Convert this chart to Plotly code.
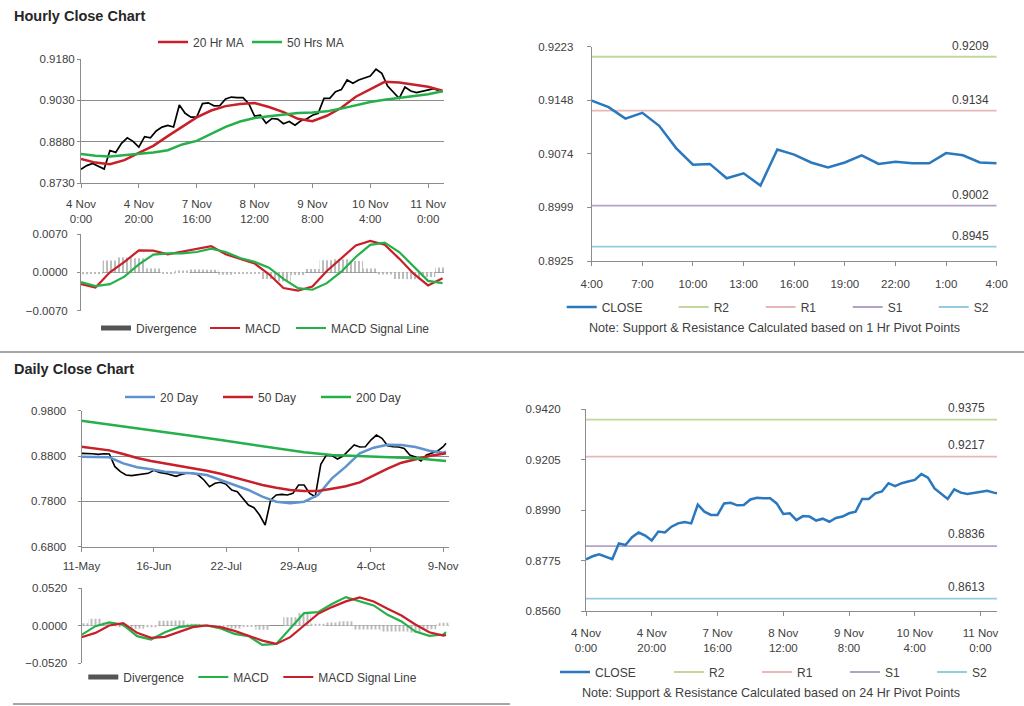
import plotly.graph_objects as go

FONT = "Liberation Sans, Arial, sans-serif"
TXT = "#404040"
AX = "#8c8c8c"
W, H = 1024, 706

# ---------------- DATA ----------------
# Hourly closes, 4 Nov 0:00 -> 11 Nov (hour index, sampled every 2 hours)
hour_idx = list(range(0, 125, 2)) + [125]
hour_close = [0.8780, 0.8793, 0.8801, 0.8791, 0.8781, 0.8848, 0.8841, 0.8874, 0.8894, 0.8881,
              0.8860, 0.8898, 0.8894, 0.8919, 0.8933, 0.8939, 0.8933, 0.9013, 0.8983, 0.8969,
              0.8969, 0.9018, 0.9021, 0.9010, 0.9011, 0.9035, 0.9042, 0.9040, 0.9040, 0.9018,
              0.8973, 0.8976, 0.8947, 0.8964, 0.8962, 0.8945, 0.8953, 0.8940, 0.8956, 0.8962,
              0.8976, 0.8983, 0.9037, 0.9037, 0.9061, 0.9069, 0.9104, 0.9092, 0.9104, 0.9111,
              0.9118, 0.9143, 0.9128, 0.9082, 0.9058, 0.9037, 0.9078, 0.9064, 0.9058, 0.9062,
              0.9067, 0.9072, 0.9064, 0.9061]
hour_ma_idx = list(range(0, 126, 5))
ma20_hr = [0.8817, 0.8804, 0.8798, 0.8813, 0.8839, 0.8865, 0.8900, 0.8935, 0.8968, 0.8993,
           0.9009, 0.9017, 0.9020, 0.9006, 0.8987, 0.8963, 0.8954, 0.8974, 0.9003, 0.9043,
           0.9069, 0.9097, 0.9095, 0.9086, 0.9079, 0.9065]
ma50_hr = [0.8835, 0.8829, 0.8826, 0.8831, 0.8837, 0.8841, 0.8849, 0.8870, 0.8883, 0.8909,
           0.8934, 0.8953, 0.8966, 0.8972, 0.8978, 0.8984, 0.8986, 0.8990, 0.9000, 0.9012,
           0.9024, 0.9032, 0.9039, 0.9045, 0.9052, 0.9063]
macd_hr = [-0.00215, -0.00275, 0.00000, 0.00191, 0.00401, 0.00395, 0.00329, 0.00383, 0.00425, 0.00479,
           0.00329, 0.00239, 0.00162, -0.00036, -0.00287, -0.00335, -0.00257, 0.00024, 0.00251, 0.00490,
           0.00574, 0.00503, 0.00251, -0.00024, -0.00239, -0.00108]
signal_hr = [-0.00179, -0.00251, -0.00215, -0.00078, 0.00144, 0.00323, 0.00347, 0.00347, 0.00371, 0.00431,
             0.00371, 0.00263, 0.00191, 0.00084, -0.00120, -0.00287, -0.00317, -0.00197, 0.00012, 0.00281,
             0.00503, 0.00544, 0.00371, 0.00102, -0.00156, -0.00197]
hour_ticks = [0, 20, 40, 60, 80, 100, 120]
hour_ticktext = ["4 Nov<br>0:00", "4 Nov<br>20:00", "7 Nov<br>16:00", "8 Nov<br>12:00",
                 "9 Nov<br>8:00", "10 Nov<br>4:00", "11 Nov<br>0:00"]

# Last 24 hours close
last24_idx = list(range(25))
last24_close = [0.9148, 0.9139, 0.9123, 0.9131, 0.9113, 0.9082, 0.9059, 0.9060, 0.9040, 0.9047,
                0.9030, 0.9080, 0.9073, 0.9062, 0.9055, 0.9062, 0.9072, 0.9060, 0.9063, 0.9061,
                0.9061, 0.9075, 0.9072, 0.9062, 0.9061]
last24_ticks = list(range(0, 25, 3))
last24_ticktext = ["4:00", "7:00", "10:00", "13:00", "16:00", "19:00", "22:00", "1:00", "4:00"]
level_names = ["R2", "R1", "S1", "S2"]
levels_1h = [0.9209, 0.9134, 0.9002, 0.8945]
levels_24h = [0.9375, 0.9217, 0.8836, 0.8613]

# Daily closes 11-May -> 11-Nov (trading-day index, sampled every 2 days)
day_idx = list(range(0, 131, 2)) + [131]
day_close = [0.8859, 0.8859, 0.8852, 0.8837, 0.8852, 0.8845, 0.8565, 0.8455, 0.8381, 0.8367,
             0.8381, 0.8396, 0.8418, 0.8484, 0.8440, 0.8418, 0.8381, 0.8352, 0.8396, 0.8426,
             0.8418, 0.8381, 0.8271, 0.8124, 0.8198, 0.8220, 0.8176, 0.8051, 0.8014, 0.7867,
             0.7720, 0.7661, 0.7499, 0.7279, 0.7830, 0.7940, 0.7955, 0.7940, 0.7977, 0.8161,
             0.8161, 0.7977, 0.7904, 0.8617, 0.8822, 0.8808, 0.8734, 0.8800, 0.8933, 0.9043,
             0.8999, 0.9006, 0.9153, 0.9263, 0.9190, 0.9028, 0.9006, 0.8999, 0.8969, 0.8822,
             0.8778, 0.8690, 0.8822, 0.8859, 0.8911, 0.9006, 0.9080]
day_ma_idx = list(range(0, 131, 5)) + [131]
ma20_day = [0.8786, 0.8786, 0.8771, 0.8639, 0.8551, 0.8506, 0.8455, 0.8433, 0.8418, 0.8381,
            0.8271, 0.8161, 0.8051, 0.7904, 0.7793, 0.7757, 0.7793, 0.7940, 0.8308, 0.8565,
            0.8859, 0.8984, 0.9050, 0.9043, 0.8999, 0.8918, 0.8874, 0.8896]
ma50_day = [0.9006, 0.8969, 0.8925, 0.8845, 0.8756, 0.8690, 0.8639, 0.8587, 0.8543, 0.8477,
            0.8411, 0.8323, 0.8234, 0.8161, 0.8102, 0.8051, 0.8029, 0.8029, 0.8080, 0.8132,
            0.8220, 0.8374, 0.8521, 0.8653, 0.8734, 0.8800, 0.8852, 0.8859]
ma200_idx = list(range(0, 131, 10)) + [131]
ma200_day = [0.9580, 0.9499, 0.9410, 0.9322, 0.9241, 0.9153, 0.9065, 0.8977, 0.8885, 0.8822,
             0.8800, 0.8786, 0.8749, 0.8698, 0.8690]
macd_day = [-0.0130, -0.0009, 0.0042, 0.0009, -0.0148, -0.0195, -0.0093, -0.0023, 0.0000, 0.0000,
            -0.0042, -0.0116, -0.0148, -0.0269, -0.0255, -0.0046, 0.0172, 0.0186, 0.0297, 0.0394,
            0.0334, 0.0278, 0.0148, 0.0056, -0.0084, -0.0144, -0.0125, -0.0093]
signal_day = [-0.0162, -0.0102, 0.0000, 0.0032, -0.0102, -0.0172, -0.0158, -0.0093, -0.0023, 0.0000,
              -0.0023, -0.0074, -0.0139, -0.0209, -0.0255, -0.0162, 0.0000, 0.0162, 0.0255, 0.0334,
              0.0390, 0.0334, 0.0232, 0.0139, 0.0014, -0.0093, -0.0139, -0.0130]
day_ticks = [0, 26, 52, 78, 104, 130]
day_ticktext = ["11-May", "16-Jun", "22-Jul", "29-Aug", "4-Oct", "9-Nov"]

div_hr = [m - s for m, s in zip(macd_hr, signal_hr)]
div_day = [m - s for m, s in zip(macd_day, signal_day)]

# ---------------- STYLE ----------------
RED = "#c8202a"
GREEN = "#25b04a"
BLUE20 = "#5f93cf"
CLOSE_BLUE = "#2a78bd"
LEVEL_COLORS = ["#c3d69b", "#e6b9b8", "#b3a2c7", "#93cddd"]
DIV_GRAY = "#8a8a8a"


def xdom(l, r):
    return [l / W, r / W]


def ydom(top, bottom):
    return [1 - bottom / H, 1 - top / H]


fig = go.Figure()

# Panel A: hourly price + MAs
fig.add_trace(go.Scatter(x=hour_idx, y=hour_close, mode="lines", line=dict(color="black", width=1.7),
                         showlegend=False, xaxis="x", yaxis="y"))
fig.add_trace(go.Scatter(x=hour_ma_idx, y=ma20_hr, mode="lines", name="20 Hr MA",
                         line=dict(color=RED, width=2.5), legend="legend", legendwidth=49, xaxis="x", yaxis="y"))
fig.add_trace(go.Scatter(x=hour_ma_idx, y=ma50_hr, mode="lines", name="50 Hrs MA",
                         line=dict(color=GREEN, width=2.5), legend="legend", xaxis="x", yaxis="y"))

pattern = dict(shape="|", fgcolor="#8f8f8f", bgcolor="white", size=4, solidity=0.3, fillmode="replace")

# Panel B: hourly MACD
fig.add_trace(go.Bar(x=hour_ma_idx, y=div_hr, width=5,
                     marker=dict(color="#8f8f8f", pattern=pattern, line=dict(width=0)),
                     showlegend=False, xaxis="x2", yaxis="y2"))
fig.add_trace(go.Scatter(x=[None], y=[None], mode="lines", name="Divergence", line=dict(color="#555555", width=5),
                         legend="legend2", legendwidth=64, xaxis="x2", yaxis="y2"))
fig.add_trace(go.Scatter(x=hour_ma_idx, y=macd_hr, mode="lines", name="MACD", line=dict(color=RED, width=2.2),
                         legend="legend2", legendwidth=41, xaxis="x2", yaxis="y2"))
fig.add_trace(go.Scatter(x=hour_ma_idx, y=signal_hr, mode="lines", name="MACD Signal Line",
                         line=dict(color=GREEN, width=2.2), legend="legend2", xaxis="x2", yaxis="y2"))

# Panel C: last 24 hours + pivots
c_widths = [42, 42, 41, 0]
for k, (nm, lv, col) in enumerate(zip(level_names, levels_1h, LEVEL_COLORS)):
    fig.add_trace(go.Scatter(x=last24_idx, y=[lv] * len(last24_idx), mode="lines", name=nm,
                             line=dict(color=col, width=1.8), legend="legend3", legendrank=2 + k,
                             legendwidth=c_widths[k], xaxis="x3", yaxis="y3"))
fig.add_trace(go.Scatter(x=last24_idx, y=last24_close, mode="lines", name="CLOSE",
                         line=dict(color=CLOSE_BLUE, width=2.5), legend="legend3", legendrank=1,
                         legendwidth=67, xaxis="x3", yaxis="y3"))

# Panel D: daily price + MAs
fig.add_trace(go.Scatter(x=day_idx, y=day_close, mode="lines", line=dict(color="black", width=1.6),
                         showlegend=False, xaxis="x4", yaxis="y4"))
fig.add_trace(go.Scatter(x=day_ma_idx, y=ma20_day, mode="lines", name="20 Day", line=dict(color=BLUE20, width=2.5),
                         legend="legend4", legendwidth=53, xaxis="x4", yaxis="y4"))
fig.add_trace(go.Scatter(x=day_ma_idx, y=ma50_day, mode="lines", name="50 Day", line=dict(color=RED, width=2.5),
                         legend="legend4", legendwidth=53, xaxis="x4", yaxis="y4"))
fig.add_trace(go.Scatter(x=ma200_idx, y=ma200_day, mode="lines", name="200 Day", line=dict(color=GREEN, width=2.5),
                         legend="legend4", xaxis="x4", yaxis="y4"))

# Panel E: daily MACD
fig.add_trace(go.Bar(x=day_ma_idx, y=div_day, width=5,
                     marker=dict(color="#8f8f8f", pattern=pattern, line=dict(width=0)),
                     showlegend=False, xaxis="x5", yaxis="y5"))
fig.add_trace(go.Scatter(x=[None], y=[None], mode="lines", name="Divergence", line=dict(color="#555555", width=5),
                         legend="legend5", legendwidth=65, xaxis="x5", yaxis="y5"))
fig.add_trace(go.Scatter(x=day_ma_idx, y=macd_day, mode="lines", name="MACD", line=dict(color=GREEN, width=2.2),
                         legend="legend5", legendwidth=40, xaxis="x5", yaxis="y5"))
fig.add_trace(go.Scatter(x=day_ma_idx, y=signal_day, mode="lines", name="MACD Signal Line",
                         line=dict(color=RED, width=2.2), legend="legend5", xaxis="x5", yaxis="y5"))

# Panel F: hourly close + 24hr pivots
f_widths = [43, 43, 42, 0]
for k, (nm, lv, col) in enumerate(zip(level_names, levels_24h, LEVEL_COLORS)):
    fig.add_trace(go.Scatter(x=hour_idx, y=[lv] * len(hour_idx), mode="lines", name=nm,
                             line=dict(color=col, width=1.8), legend="legend6", legendrank=2 + k,
                             legendwidth=f_widths[k], xaxis="x6", yaxis="y6"))
fig.add_trace(go.Scatter(x=hour_idx, y=hour_close, mode="lines", name="CLOSE",
                         line=dict(color=CLOSE_BLUE, width=2.5), legend="legend6", legendrank=1,
                         legendwidth=69, xaxis="x6", yaxis="y6"))

for tr in fig.data:
    tr.hoverinfo = "skip"

tickfont = dict(family=FONT, size=11.5, color=TXT)
base_x = dict(showgrid=False, zeroline=False, showline=True, linecolor=AX, linewidth=1,
              ticks="outside", ticklen=4, tickcolor=AX, tickfont=tickfont, fixedrange=True)
base_y = dict(zeroline=False, showline=True, linecolor=AX, linewidth=1, ticks="outside", ticklen=3,
              tickcolor=AX, tickfont=tickfont, fixedrange=True)

layout = dict(
    width=W, height=H, autosize=False,
    margin=dict(l=0, r=0, t=0, b=0, autoexpand=False),
    paper_bgcolor="white", plot_bgcolor="white",
    font=dict(family=FONT, color=TXT),
    barmode="overlay",
    xaxis=dict(base_x, domain=xdom(81, 444), anchor="y", range=[0, 125.5], tickvals=hour_ticks,
               ticktext=hour_ticktext, ticklabelstandoff=6),
    yaxis=dict(base_y, domain=ydom(59, 183), anchor="x", range=[0.8730, 0.9180],
               tickvals=[0.8730, 0.8880, 0.9030, 0.9180], tickformat=".4f", showgrid=True, gridcolor=AX),
    xaxis2=dict(domain=xdom(81, 444), anchor="y2", range=[0, 125.5], visible=False, fixedrange=True),
    yaxis2=dict(base_y, domain=ydom(234, 310.7), anchor="x2", range=[-0.0070, 0.0070],
                tickvals=[-0.0070, 0.0, 0.0070], tickformat=".4f", showgrid=True, gridcolor=AX,
                ticklabelstandoff=7),
    xaxis3=dict(base_x, domain=xdom(591.7, 996.7), anchor="y3", range=[0, 24], tickvals=last24_ticks,
                ticktext=last24_ticktext, ticklabelstandoff=8),
    yaxis3=dict(base_y, domain=ydom(46.7, 261), anchor="x3", range=[0.8925, 0.9223],
                tickvals=[0.8925, 0.89995, 0.9074, 0.91485, 0.9223],
                ticktext=["0.8925", "0.8999", "0.9074", "0.9148", "0.9223"], showgrid=False,
                ticklen=4, ticklabelstandoff=11),
    xaxis4=dict(base_x, domain=xdom(81.5, 448.5), anchor="y4", range=[0, 131.9], tickvals=day_ticks,
                ticktext=day_ticktext, ticklabelstandoff=4),
    yaxis4=dict(base_y, domain=ydom(410.7, 546.7), anchor="x4", range=[0.68, 0.98],
                tickvals=[0.68, 0.78, 0.88, 0.98], tickformat=".4f", showgrid=True, gridcolor=AX,
                ticklabelstandoff=9),
    xaxis5=dict(domain=xdom(81.5, 448.5), anchor="y5", range=[0, 131.9], visible=False, fixedrange=True),
    yaxis5=dict(base_y, domain=ydom(588, 663), anchor="x5", range=[-0.052, 0.052],
                tickvals=[-0.052, 0.0, 0.052], tickformat=".4f", showgrid=True, gridcolor=AX,
                ticklabelstandoff=8),
    xaxis6=dict(base_x, domain=xdom(586, 997), anchor="y6", range=[0, 125], tickvals=hour_ticks,
                ticktext=hour_ticktext, ticklabelstandoff=7),
    yaxis6=dict(base_y, domain=ydom(409, 611), anchor="x6", range=[0.856, 0.942],
                tickvals=[0.856, 0.8775, 0.899, 0.9205, 0.942], tickformat=".4f", showgrid=False,
                ticklen=4, ticklabelstandoff=18),
)

leg_common = dict(orientation="h", xanchor="left", yanchor="middle", bgcolor="rgba(0,0,0,0)",
                  font=dict(family=FONT, size=12, color=TXT), itemwidth=30, traceorder="normal",
                  itemclick=False, itemdoubleclick=False)
legend_pos = {"legend": (153, 42), "legend2": (96, 328), "legend3": (561.7, 307),
              "legend4": (120, 397), "legend5": (83.3, 677), "legend6": (555, 672)}
for key, (lx, ly) in legend_pos.items():
    layout[key] = dict(leg_common, x=lx / W, y=1 - ly / H)

fig.update_layout(**layout)

# Titles & notes
for txt, ty in [("Hourly Close Chart", 16), ("Daily Close Chart", 369)]:
    fig.add_annotation(text="<b>%s</b>" % txt, xref="paper", yref="paper", x=12 / W, y=1 - ty / H,
                       xanchor="left", yanchor="middle", showarrow=False,
                       font=dict(family=FONT, size=14.5, color="#262626"))
fig.add_annotation(text="Note: Support & Resistance Calculated based on 1 Hr Pivot Points", xref="paper",
                   yref="paper", x=774 / W, y=1 - 328 / H, xanchor="center", yanchor="middle", showarrow=False,
                   font=dict(family=FONT, size=12.6, color=TXT))
fig.add_annotation(text="Note: Support & Resistance Calculated based on 24 Hr Pivot Points", xref="paper",
                   yref="paper", x=771 / W, y=1 - 693 / H, xanchor="center", yanchor="middle", showarrow=False,
                   font=dict(family=FONT, size=12.6, color=TXT))

# Pivot level value labels
for lv in levels_1h:
    fig.add_annotation(text="%.4f" % lv, xref="x3", yref="y3", x=last24_idx[-1], y=lv, xanchor="right",
                       yanchor="bottom", xshift=-6, yshift=2, showarrow=False,
                       font=dict(family=FONT, size=12, color=TXT))
for lv in levels_24h:
    fig.add_annotation(text="%.4f" % lv, xref="x6", yref="y6", x=hour_idx[-1], y=lv, xanchor="right",
                       yanchor="bottom", xshift=-10, yshift=3, showarrow=False,
                       font=dict(family=FONT, size=12, color=TXT))

# Section separators
fig.add_shape(type="line", xref="paper", yref="paper", x0=0, x1=1, y0=1 - 352 / H, y1=1 - 352 / H,
              line=dict(color="#a6a6a6", width=2))
fig.add_shape(type="line", xref="paper", yref="paper", x0=13 / W, x1=510 / W, y0=1 - 704 / H, y1=1 - 704 / H,
              line=dict(color="#a6a6a6", width=2))

fig.write_html("out.html", include_plotlyjs=True, config={"displayModeBar": False},
               post_script="document.body.style.margin='0px';document.body.style.overflow='hidden';")
